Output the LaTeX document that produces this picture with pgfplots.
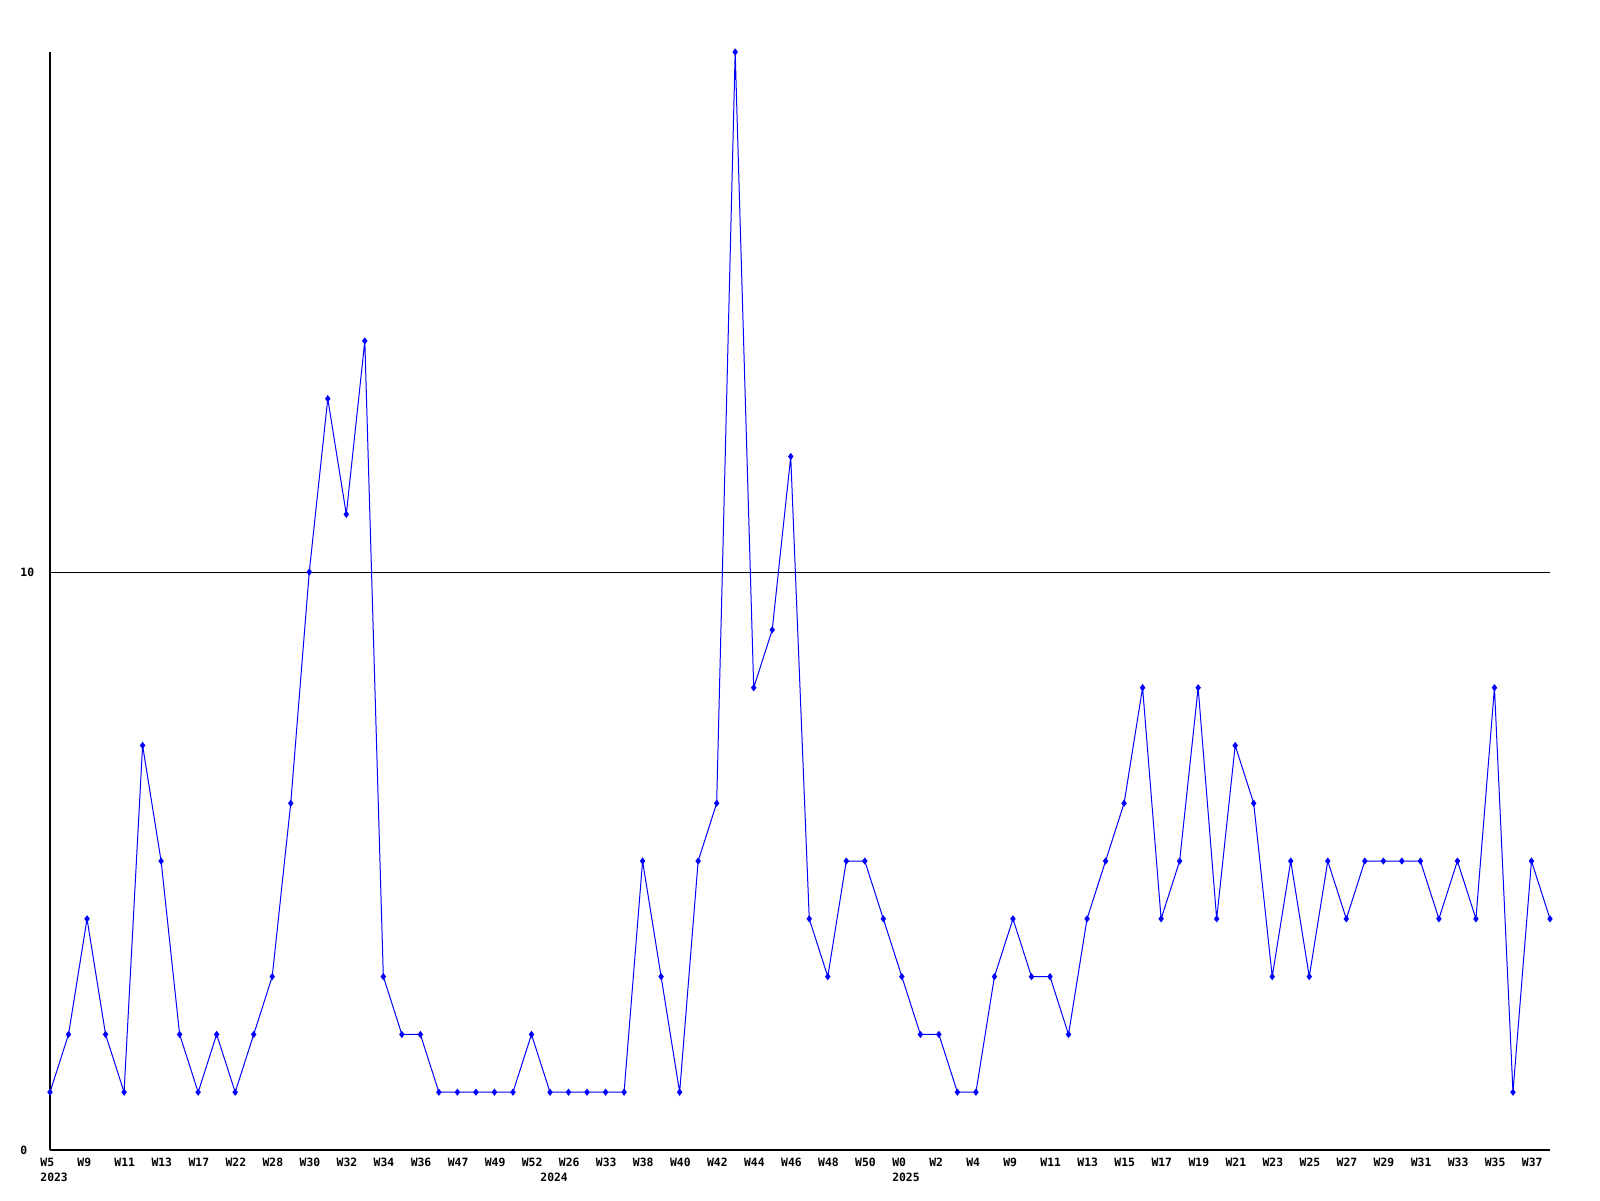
\documentclass[border=0pt]{standalone}
\usepackage{fontspec}
\setmainfont{DejaVu Sans Mono}
\usepackage{pgfplots}
\pgfplotsset{compat=1.18}
\definecolor{lineblue}{RGB}{0,0,255}
\begin{document}
\begin{tikzpicture}
\path[use as bounding box, fill=white] (0,0) rectangle (800pt,600pt);
\begin{axis}[
  at={(25pt,25pt)}, anchor=south west,
  scale only axis, width=750pt, height=549pt,
  xmin=0, xmax=81, ymin=0, ymax=19,
  axis lines*=left,
  axis line style={-, black, line width=0.6pt},
  clip=false,
  /pgf/number format/assume math mode=true,
  font=\fontsize{5.7pt}{6pt}\selectfont\bfseries,
  major tick length=0pt,
  xtick={0,2,...,80},
  xticklabels={W5,W9,W11,W13,W17,W22,W28,W30,W32,W34,W36,W47,W49,W52,W26,W33,W38,W40,W42,W44,W46,W48,W50,W0,W2,W4,W9,W11,W13,W15,W17,W19,W21,W23,W25,W27,W29,W31,W33,W35,W37},
  xticklabel style={anchor=west, inner sep=0pt, xshift=-5pt, yshift=-6pt},
  ytick={0,10},
  yticklabel style={anchor=west, inner sep=0pt, xshift=-15pt},
  ymajorgrids,
  grid style={black, line width=0.5pt},
]
\addplot[color=lineblue, line width=0.5pt, mark=diamond*, mark size=1.4pt, mark options={fill=lineblue}] coordinates {
(0,1)(1,2)(2,4)(3,2)(4,1)(5,7)(6,5)(7,2)(8,1)(9,2)
(10,1)(11,2)(12,3)(13,6)(14,10)(15,13)(16,11)(17,14)(18,3)(19,2)
(20,2)(21,1)(22,1)(23,1)(24,1)(25,1)(26,2)(27,1)(28,1)(29,1)
(30,1)(31,1)(32,5)(33,3)(34,1)(35,5)(36,6)(37,19)(38,8)(39,9)
(40,12)(41,4)(42,3)(43,5)(44,5)(45,4)(46,3)(47,2)(48,2)(49,1)
(50,1)(51,3)(52,4)(53,3)(54,3)(55,2)(56,4)(57,5)(58,6)(59,8)
(60,4)(61,5)(62,8)(63,4)(64,7)(65,6)(66,3)(67,5)(68,3)(69,5)
(70,4)(71,5)(72,5)(73,5)(74,5)(75,4)(76,5)(77,4)(78,8)(79,1)
(80,5)(81,4)
};
\node[anchor=west, inner sep=0pt, xshift=-5pt, yshift=-13.5pt] at (axis cs:0,0) {2023};
\node[anchor=west, inner sep=0pt, xshift=-5pt, yshift=-13.5pt] at (axis cs:27,0) {2024};
\node[anchor=west, inner sep=0pt, xshift=-5pt, yshift=-13.5pt] at (axis cs:46,0) {2025};
\end{axis}
\end{tikzpicture}
\end{document}
